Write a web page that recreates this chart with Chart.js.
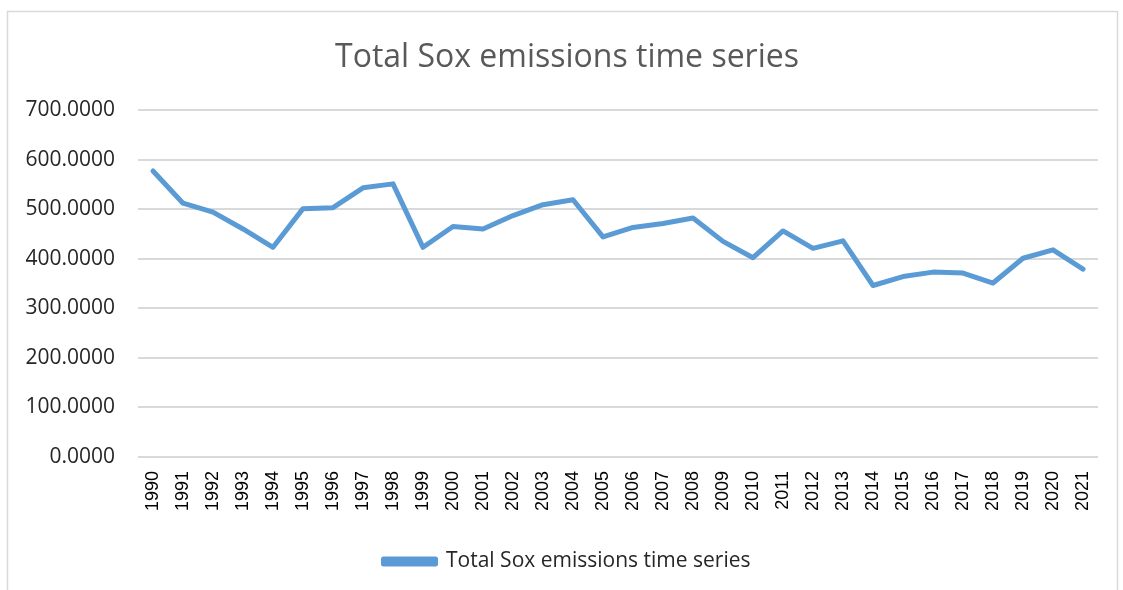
<!DOCTYPE html>
<html>
<head>
<meta charset="utf-8">
<script src="https://cdn.jsdelivr.net/npm/chart.js@4"></script>
<style>
html,body{margin:0;padding:0;background:#fff;}
#wrap{position:relative;width:1123px;height:590px;}
</style>
</head>
<body>
<div id="wrap"><canvas id="c" width="1123" height="590"></canvas></div>
<script>
const categories = ["1990","1991","1992","1993","1994","1995","1996","1997","1998","1999","2000","2001","2002","2003","2004","2005","2006","2007","2008","2009","2010","2011","2012","2013","2014","2015","2016","2017","2018","2019","2020","2021"];
const soxValues = [577,512,494,460,423,501,503,543,551,423,465,460,487,509,519,444,463,471,482,435,402,456,421,436,346,364,373,371,351,401,418,379];
const yTicks = [0,100,200,300,400,500,600,700];
const seriesName = "Total Sox emissions time series";
const chartTitle = "Total Sox emissions time series";

const borderPlugin = {
  id: 'frame',
  beforeDraw(chart) {
    const ctx = chart.ctx;
    ctx.save();
    ctx.fillStyle = '#fff';
    ctx.fillRect(0, 0, chart.width, chart.height);
    ctx.strokeStyle = '#d9d9d9';
    ctx.lineWidth = 1.5;
    ctx.strokeRect(7.5, 11.5, 1110, 620);
    ctx.restore();
  }
};

new Chart(document.getElementById('c'), {
  type: 'line',
  data: {
    labels: categories,
    datasets: [{
      label: seriesName,
      data: soxValues,
      borderColor: '#5b9bd5',
      backgroundColor: '#5b9bd5',
      borderWidth: 5,
      pointRadius: 0,
      tension: 0,
      borderCapStyle: 'round',
      borderJoinStyle: 'round',
      fill: false
    }]
  },
  options: {
    responsive: false,
    animation: false,
    layout: { padding: { left: 18, right: 7, top: 0, bottom: 8 } },
    plugins: {
      title: {
        display: true,
        text: chartTitle,
        color: '#595959',
        font: { family: 'Open Sans', size: 32, weight: 'normal' },
        padding: { top: 39, bottom: 32.6 }
      },
      legend: {
        display: true,
        position: 'bottom',
        labels: {
          color: '#262626',
          font: { family: 'Open Sans', size: 21 },
          boxWidth: 52,
          boxHeight: 5,
          padding: 14
        }
      },
      tooltip: { enabled: false }
    },
    scales: {
      x: {
        offset: true,
        afterFit(s) { s.height = 80; },
        grid: { display: false, drawTicks: false },
        border: { display: false },
        ticks: {
          color: '#000',
          font: { family: 'Liberation Sans', size: 18 },
          minRotation: 90,
          maxRotation: 90,
          padding: 14,
          autoSkip: false
        }
      },
      y: {
        min: 0,
        max: 700,
        afterBuildTicks(s) { s.ticks = yTicks.map(v => ({ value: v })); },
        afterFit(s) { s.width = 120; },
        grid: { color: '#d9d9d9', lineWidth: 2, drawTicks: false },
        border: { display: false },
        ticks: {
          color: '#262626',
          font: { family: 'Open Sans', size: 21 },
          padding: 23,
          callback: v => Number(v).toFixed(4)
        }
      },
      yRight: {
        position: 'right',
        display: true,
        min: 0,
        max: 700,
        afterFit(s) { s.width = 18; },
        grid: { display: false, drawTicks: false },
        border: { display: false },
        ticks: { display: false }
      }
    }
  },
  plugins: [borderPlugin]
});
</script>
</body>
</html>
